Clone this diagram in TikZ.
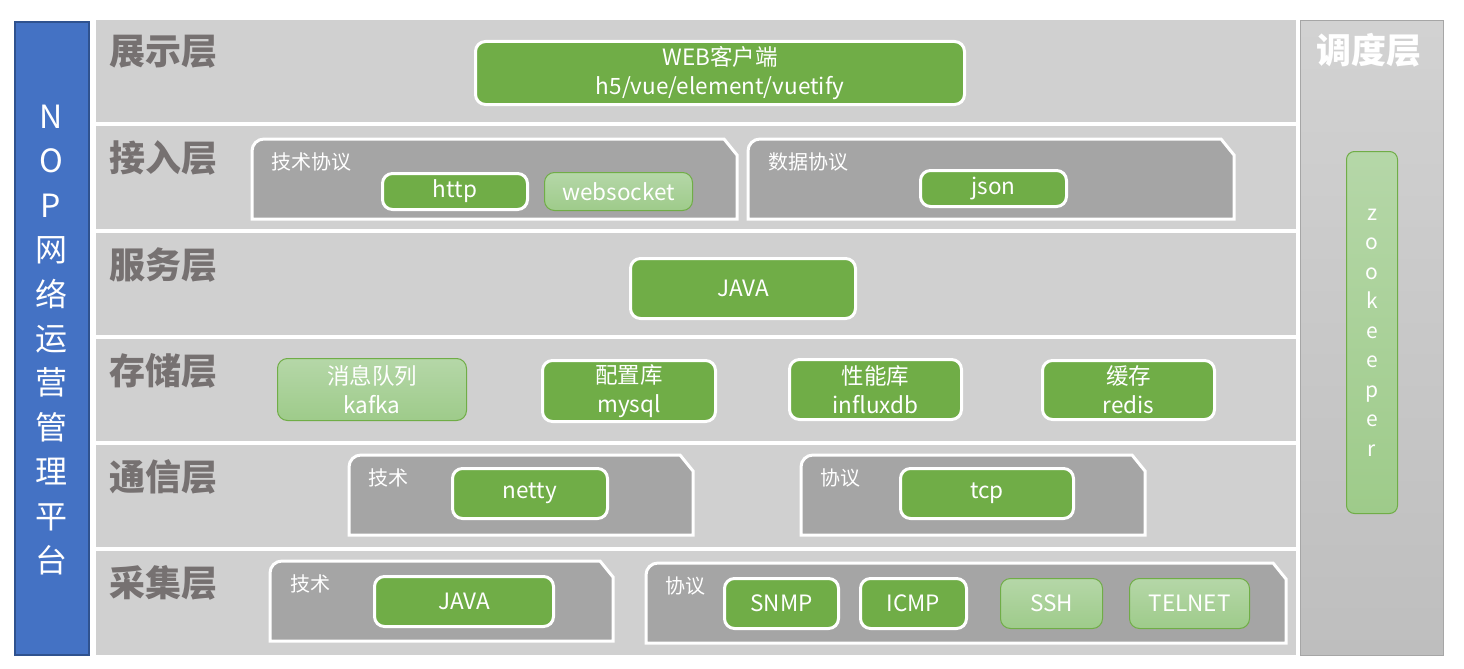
\documentclass[tikz,border=0pt]{standalone}
\usepackage{fontspec}
\setmainfont{Noto Sans CJK SC}
\definecolor{bandgray}{HTML}{D0D0D0}
\definecolor{panelgray}{HTML}{A5A5A5}
\definecolor{titlegray}{HTML}{767171}
\definecolor{boxgreen}{HTML}{70AD47}
\definecolor{lightgreenA}{HTML}{B5D7A8}
\definecolor{lightgreenB}{HTML}{9ECB8A}
\definecolor{barblue}{HTML}{4472C4}
\definecolor{barblueline}{HTML}{2F528F}
\definecolor{schedA}{HTML}{D2D2D2}
\definecolor{schedB}{HTML}{BEBEBE}
\newcommand\snippanel[4]{\filldraw[sub panel] (#1,#4) -- (#1,#2+12) arc[start angle=180,end angle=90,radius=12pt] -- (#3-13,#2) -- (#3,#2+16) -- (#3,#4) -- cycle;}
\begin{document}
\begin{tikzpicture}[x=1pt,y=-1pt,
    layer band/.style={anchor=north west,fill=bandgray,minimum width=1200pt,minimum height=102pt,inner sep=0pt},
    layer title/.style={anchor=west,inner sep=0pt,text=titlegray,font=\fontsize{36}{40}\selectfont\bfseries},
    green box/.style={anchor=north west,rounded corners=10pt,fill=boxgreen,draw=white,line width=3pt,text=white,inner sep=0pt,align=center,font=\fontsize{22.5}{29}\selectfont},
    light box/.style={green box,top color=lightgreenA,bottom color=lightgreenB,draw=boxgreen,line width=1pt},
    sub panel/.style={fill=panelgray,draw=white,line width=3pt},
    sub label/.style={anchor=west,inner sep=0pt,text=white,font=\fontsize{20}{24}\selectfont}]
    \useasboundingbox (0,0) rectangle (1464,669);
    \fill[white] (0,0) rectangle (1464,669);

    \node[anchor=north west,fill=barblue,draw=barblueline,line width=2pt,minimum width=74pt,minimum height=633pt,inner sep=0pt] at (14,21) (nop) {};
    \node[text=white,align=center,inner sep=0pt,font=\fontsize{32}{44.4}\selectfont] at (51,340) (noptext) {N\\O\\P\\网\\络\\运\\营\\管\\理\\平\\台};

    \node[layer band] at (96,20) (show) {};
    \node[layer band, minimum height=103pt] at (96,126) (access) {};
    \node[layer band] at (96,233) (service) {};
    \node[layer band] at (96,339) (store) {};
    \node[layer band] at (96,445) (comm) {};
    \node[layer band, minimum height=104pt] at (96,551) (collect) {};

    \node[layer title] at (109,52) (showt) {展示层};
    \node[layer title] at (109,158) (accesst) {接入层};
    \node[layer title] at (109,265) (servicet) {服务层};
    \node[layer title] at (109,371) (storet) {存储层};
    \node[layer title] at (109,477) (commt) {通信层};
    \node[layer title] at (109,583) (collectt) {采集层};

    \node[anchor=north west,top color=schedA,bottom color=schedB,draw=gray!70,line width=1pt,minimum width=143pt,minimum height=635pt,inner sep=0pt] at (1300,20) (sched) {};
    \node[text=white,inner sep=0pt,font=\fontsize{35}{40}\selectfont\bfseries] at (1369,50) (schedt) {调度层};
    \node[light box, rounded corners=8pt, minimum width=51pt, minimum height=362pt, font=\fontsize{21}{29.5}\selectfont] at (1346,151) (zk) {z\\o\\o\\k\\e\\e\\p\\e\\r};

    \node[green box, minimum width=489pt, minimum height=63pt] at (474,40) (web) {WEB客户端\\h5/vue/element/vuetify};

    \snippanel{252}{139}{737}{219}
    \snippanel{748}{139}{1234}{219}
    \node[sub label] at (271,162) (tech1) {技术协议};
    \node[sub label] at (768,162) (data1) {数据协议};
    \node[green box, minimum width=145pt, minimum height=36pt] at (381,172) (http) {http};
    \node[light box, minimum width=148pt, minimum height=38pt] at (544,172) (websocket) {websocket};
    \node[green box, minimum width=146pt, minimum height=36pt] at (919,169) (json) {json};

    \node[green box, minimum width=225pt, minimum height=60pt] at (629,257) (java1) {JAVA};

    \node[light box, minimum width=189pt, minimum height=62pt] at (277,358) (kafka) {消息队列\\kafka};
    \node[green box, minimum width=173pt, minimum height=61pt] at (541,359) (mysql) {配置库\\mysql};
    \node[green box, minimum width=172pt, minimum height=60pt] at (788,358) (influx) {性能库\\influxdb};
    \node[green box, minimum width=172pt, minimum height=59pt] at (1041,359) (redis) {缓存\\redis};

    \snippanel{349}{455}{693}{535}
    \snippanel{801}{455}{1145}{535}
    \node[sub label] at (368,478) (tech2) {技术};
    \node[sub label] at (820,478) (proto2) {协议};
    \node[green box, minimum width=155pt, minimum height=50pt] at (451,467) (netty) {netty};
    \node[green box, minimum width=173pt, minimum height=50pt] at (899,467) (tcp) {tcp};

    \snippanel{270}{561}{613}{641}
    \snippanel{646}{563}{1286}{643}
    \node[sub label] at (290,584) (tech3) {技术};
    \node[sub label] at (665,586) (proto3) {协议};
    \node[green box, minimum width=179pt, minimum height=50pt] at (373,575) (java2) {JAVA};
    \node[green box, minimum width=114pt, minimum height=50pt] at (723,577) (snmp) {SNMP};
    \node[green box, minimum width=106pt, minimum height=50pt] at (859,577) (icmp) {ICMP};
    \node[light box, minimum width=102pt, minimum height=50pt] at (1000,578) (ssh) {SSH};
    \node[light box, minimum width=120pt, minimum height=50pt] at (1129,578) (telnet) {TELNET};
\end{tikzpicture}
\end{document}
